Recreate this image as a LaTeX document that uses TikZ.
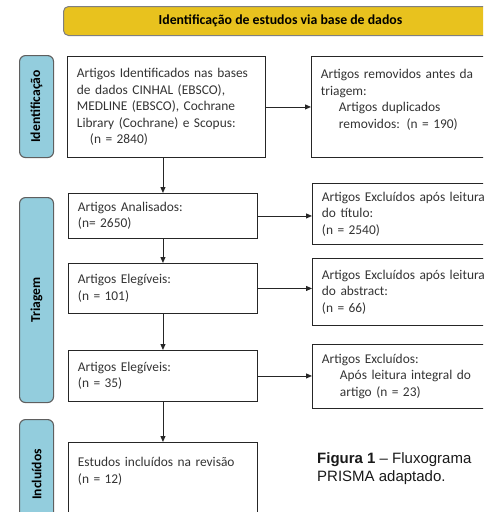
\documentclass[tikz,border=0pt]{standalone}
\usepackage{fontspec}
\usepackage{graphicx}
\setmainfont{Carlito}
\newfontfamily\captionfont{Liberation Sans}
\usetikzlibrary{arrows.meta}
\definecolor{bannergold}{HTML}{E8C21E}
\definecolor{tabblue}{HTML}{93CDDD}
\definecolor{edgegray}{HTML}{5F5F5F}
\definecolor{txtgray}{HTML}{333333}

\begin{document}
\begin{tikzpicture}[x=1pt,y=-1pt,
  box/.style={draw=black!85,line width=0.9pt,anchor=north west,align=left,
    inner xsep=9.5pt,inner ysep=0pt,text=txtgray,
    font=\fontsize{13.4}{16.5}\selectfont},
  tab/.style={draw=edgegray,fill=tabblue,rounded corners=6pt,line width=1.1pt,
    anchor=north west,minimum width=34pt,inner sep=0pt,
    font=\bfseries\fontsize{13.6}{15}\selectfont},
  flow/.style={-{Triangle[length=6pt,width=5pt]},line width=0.9pt,black!85}]
\useasboundingbox (0,0) rectangle (483,512);
\clip (0,0) rectangle (483,512);

% banner
\node[draw=edgegray!80,fill=bannergold,rounded corners=5pt,line width=1pt,anchor=north west,
  minimum width=434pt,minimum height=29pt,inner sep=0pt,
  font=\bfseries\fontsize{13.8}{15}\selectfont] (banner) at (63,6) {Identificação de estudos via base de dados};

% side tabs
\node[tab,minimum height=102pt] (tabid) at (19,55) {\rotatebox{90}{Identificação}};
\node[tab,minimum height=205pt] (tabtri) at (19,197) {\rotatebox{90}{Triagem}};
\node[tab,minimum height=110pt] (tabinc) at (19,419) {\rotatebox{90}{Incluídos}};

% main column
\node[box,text width=179pt,minimum height=101pt] (b1) at (67,56)
  {Artigos Identificados nas bases\\de dados CINHAL (EBSCO),\\MEDLINE (EBSCO), Cochrane\\Library (Cochrane) e Scopus:\\\hspace*{13pt}(n = 2840)};
\node[box,text width=170pt,minimum height=45pt] (b2) at (68,193) {Artigos Analisados:\\(n= 2650)};
\node[box,text width=170pt,minimum height=50pt] (b3) at (68,263) {Artigos Elegíveis:\\(n = 101)};
\node[box,text width=170pt,minimum height=51pt] (b4) at (68,350) {Artigos Elegíveis:\\(n = 35)};
\node[box,text width=170pt,inner ysep=15pt] (b5) at (68,442)
  {Estudos incluídos na revisão\\(n = 12)\rule[-70pt]{0pt}{70pt}};

% excluded column
\node[box,text width=181pt,minimum height=101pt] (r1) at (311,56)
  {Artigos removidos antes da\\triagem:\\\hspace*{18pt}Artigos duplicados\\\hspace*{18pt}removidos: (n = 190)\\\mbox{}};
\node[box,text width=181pt,minimum height=61pt] (r2) at (312,183)
  {Artigos Excluídos após leitura\\do título:\\(n = 2540)};
\node[box,text width=181pt,minimum height=67pt] (r3) at (312,258)
  {Artigos Excluídos após leitura\\do abstract:\\(n = 66)};
\node[box,text width=181pt,minimum height=64pt] (r4) at (312,344)
  {Artigos Excluídos:\\\hspace*{18pt}Após leitura integral do\\\hspace*{18pt}artigo (n = 23)};

% connectors
\foreach \a/\b in {b1/r1,b2/r2,b3/r3,b4/r4}
  \draw[flow] (\a.east) -- (\a.east -| \b.west);
\foreach \a/\b in {b1/b2,b2/b3,b3/b4,b4/b5}
  \draw[flow] (\a.south -| \b.north) -- (\b.north);

% caption
\node[anchor=north west,align=left,inner sep=0pt,text=black!90,
  font=\captionfont\fontsize{15}{18}\selectfont] (cap) at (317,452)
  {\textbf{Figura 1} – Fluxograma\\PRISMA adaptado.};
\end{tikzpicture}
\end{document}
